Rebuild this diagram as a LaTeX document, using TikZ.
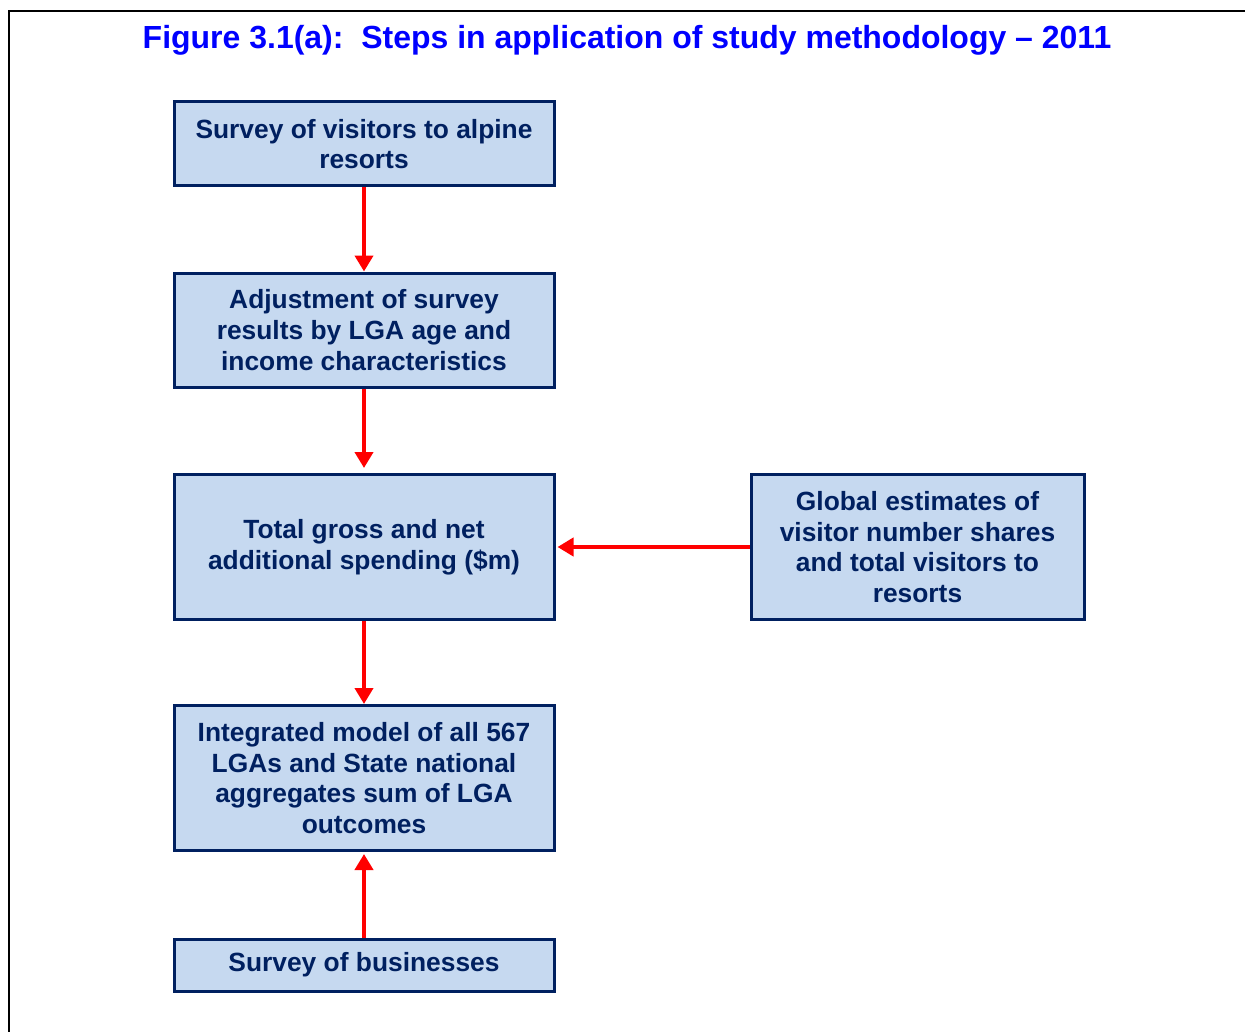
\documentclass[tikz,border=0pt]{standalone}
\usepackage{fontspec}
\setmainfont{Liberation Sans}
\usetikzlibrary{arrows.meta}
\definecolor{boxfill}{RGB}{198,217,240}
\definecolor{navy}{RGB}{0,32,96}
\tikzset{
  stepbox/.style={draw=navy, line width=0.06cm, fill=boxfill, text=navy,
    align=center, minimum width=7.6cm, inner sep=0pt,
    font=\fontsize{15}{17.4}\selectfont\bfseries},
  flow/.style={red, line width=0.09cm, -{Triangle[length=0.32cm,width=0.36cm]}}
}
\begin{document}
\begin{tikzpicture}
    \useasboundingbox (0,0) rectangle (24.9,-20.64);
    % frame round the figure
    \draw[line width=0.05cm] (0.18,-20.64) -- (0.18,-0.22) -- (24.9,-0.22);

    \node[text={rgb,255:red,0;green,0;blue,255}, font=\fontsize{18.2}{21}\selectfont\bfseries] (title) at (12.54,-0.8)
        {Figure 3.1(a):\ \ Steps in application of study methodology – 2011};

    \node[stepbox, minimum height=1.68cm] (visitors) at (7.28,-2.88) {Survey of visitors to alpine\\resorts};
    \node[stepbox, minimum height=2.28cm] (adjust) at (7.28,-6.6) {Adjustment of survey\\results by LGA age and\\income characteristics};
    \node[stepbox, minimum height=2.9cm] (spending) at (7.28,-10.94) {Total gross and net\\additional spending (\$m)};
    \node[stepbox, minimum height=2.9cm, minimum width=6.66cm] (global) at (18.35,-10.94) {Global estimates of\\visitor number shares\\and total visitors to\\resorts};
    \node[stepbox, minimum height=2.9cm] (model) at (7.28,-15.56) {Integrated model of all 567\\LGAs and State national\\aggregates sum of LGA\\outcomes};
    \node[stepbox, minimum height=1.04cm] (business) at (7.28,-19.3) {Survey of businesses};

    \draw[flow] (visitors) -- (adjust);
    \draw[flow, shorten >=0.1cm] (adjust) -- (spending);
    \draw[flow] (spending) -- (model);
    \draw[flow, shorten >=0.04cm] (global) -- (spending);
    \draw[flow, shorten >=0.04cm] (business) -- (model);
\end{tikzpicture}
\end{document}
